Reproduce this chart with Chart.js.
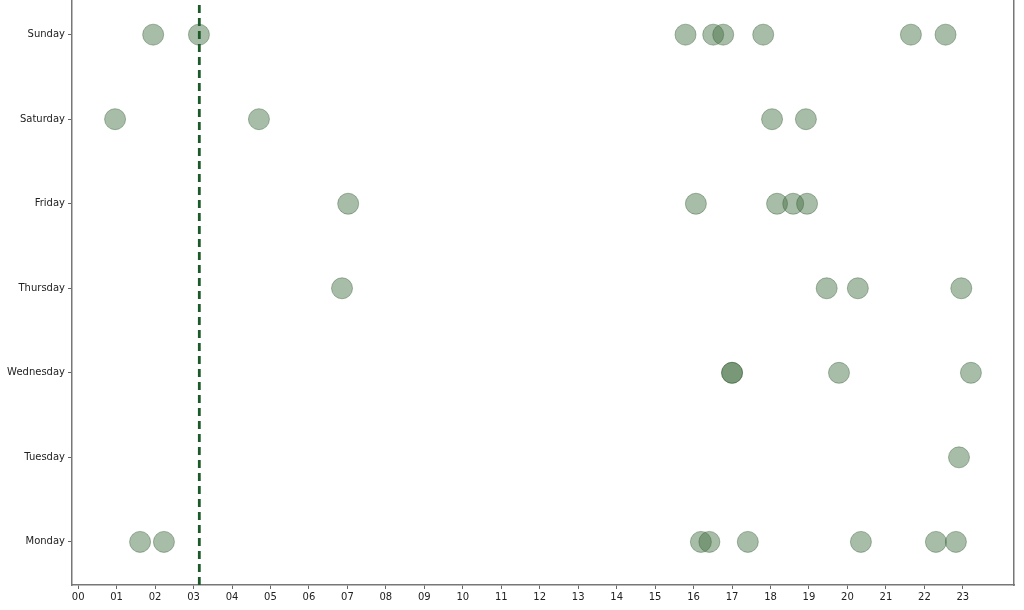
<!DOCTYPE html>
<html>
<head>
<meta charset="utf-8">
<script src="https://cdn.jsdelivr.net/npm/chart.js@4/dist/chart.umd.min.js"></script>
<style>
  html, body { margin: 0; padding: 0; background: #fff; }
</style>
</head>
<body>
<canvas id="myChart" width="1024" height="610"></canvas>
<script>
var days = ["Monday", "Tuesday", "Wednesday", "Thursday", "Friday", "Saturday", "Sunday"]; // bottom to top
var hours = [0,1,2,3,4,5,6,7,8,9,10,11,12,13,14,15,16,17,18,19,20,21,22,23];
// event times (decimal hour) per day
var monday    = [1.61, 2.23, 16.19, 16.41, 17.41, 20.35, 22.30, 22.82];
var tuesday   = [22.90];
var wednesday = [17.00, 17.00, 19.78, 23.21];
var thursday  = [6.86, 19.46, 20.27, 22.96];
var friday    = [7.02, 16.06, 18.17, 18.59, 18.95];
var saturday  = [0.96, 4.70, 18.04, 18.92];
var sunday    = [1.95, 3.14, 15.79, 16.51, 16.77, 17.81, 21.65, 22.55];
var markerHour = 3.15; // dashed vertical line
var xMin = -0.16, xMax = 24.33;
var yMin = -0.51, yMax = 6.41;

var perDay = [monday, tuesday, wednesday, thursday, friday, saturday, sunday];
var points = [];
for (var d = 0; d < perDay.length; d++) {
  for (var i = 0; i < perDay[d].length; i++) {
    points.push({x: perDay[d][i], y: d});
  }
}

var ctx = document.getElementById('myChart').getContext('2d');
var tickFont = {family: "'DejaVu Sans', sans-serif", size: 10};
var chart = new Chart(ctx, {
  type: 'scatter',
  data: {
    datasets: [{
      // dashed marker line, first so it sits on top
      data: [{x: markerHour, y: yMin}, {x: markerHour, y: yMax}],
      showLine: true,
      borderColor: '#1d5a2a',
      borderWidth: 2.8,
      borderDash: [8, 5],
      pointRadius: 0,
      order: 0
    }, {
      data: points,
      pointRadius: 10.5,
      backgroundColor: 'rgba(62,108,62,0.45)',
      borderColor: 'rgba(50,90,50,0.4)',
      borderWidth: 1,
      order: 1
    }]
  },
  options: {
    responsive: false,
    animation: false,
    layout: {autoPadding: false, padding: {top: 0, right: 10, left: 0, bottom: 0}},
    plugins: {legend: {display: false}, tooltip: {enabled: false}},
    scales: {
      x: {
        type: 'linear', min: xMin, max: xMax,
        afterBuildTicks: function (s) { s.ticks = hours.map(function (h) { return {value: h}; }); },
        afterFit: function (s) { s.height = 25; },
        ticks: {
          autoSkip: false, maxRotation: 0, padding: 2, color: '#222', font: tickFont,
          callback: function (v) { return String(v).padStart(2, '0'); }
        },
        grid: {drawOnChartArea: false, drawTicks: true, tickLength: 4, color: '#666'},
        border: {display: true, color: '#777', width: 1.5}
      },
      y: {
        type: 'linear', min: yMin, max: yMax,
        afterBuildTicks: function (s) { s.ticks = days.map(function (n, i) { return {value: i}; }); },
        afterFit: function (s) { s.width = 72; s.paddingTop = 0; s.paddingBottom = 0; },
        ticks: {
          autoSkip: false, padding: 3, color: '#222', font: tickFont,
          callback: function (v) { return days[v]; }
        },
        grid: {drawOnChartArea: false, drawTicks: true, tickLength: 4, color: '#666'},
        border: {display: true, color: '#777', width: 1.5}
      },
      y2: {
        type: 'linear', position: 'right', min: yMin, max: yMax,
        afterFit: function (s) { s.width = 0; s.paddingTop = 0; s.paddingBottom = 0; },
        ticks: {display: false},
        grid: {display: false},
        border: {display: true, color: '#777', width: 1.5}
      }
    }
  }
});
</script>
</body>
</html>
